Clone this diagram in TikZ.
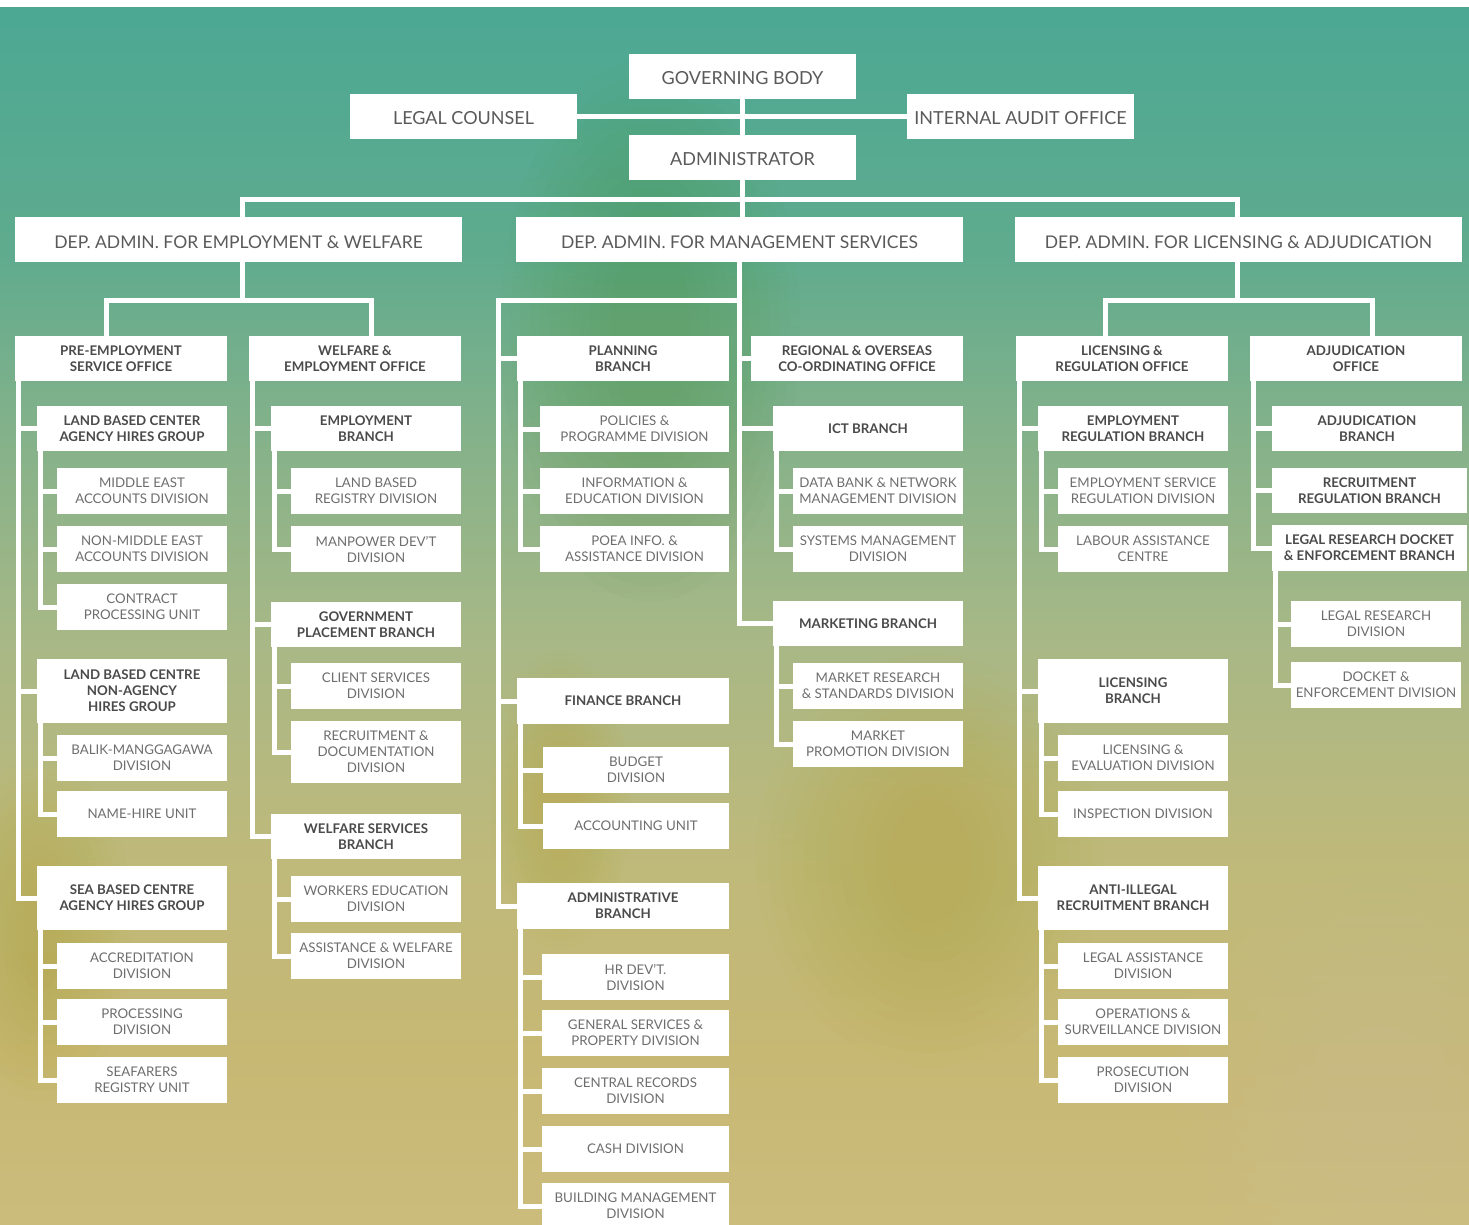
\documentclass[tikz,border=0pt]{standalone}
\usepackage{fontspec}
\setmainfont{Lato}
\usepackage{xcolor}
\usepackage{tikz}
\usetikzlibrary{positioning,calc}
\definecolor{txtdark}{HTML}{5A5A5A}
\definecolor{txtbold}{HTML}{4A4A4A}
\definecolor{txtlight}{HTML}{6E6E6E}
\definecolor{bga}{HTML}{4CA893}
\definecolor{bgb}{HTML}{5FAB8E}
\definecolor{bgc}{HTML}{86B28A}
\definecolor{bgd}{HTML}{A8B886}
\definecolor{bge}{HTML}{BEB97B}
\definecolor{bgf}{HTML}{C7B874}
\definecolor{bgg}{HTML}{CBBC7C}
\definecolor{ochre}{HTML}{B89A2E}
\definecolor{moss}{HTML}{4E8F3E}
\definecolor{pale}{HTML}{DCD8B0}
\pgfdeclareverticalshading{paper}{100bp}{color(0bp)=(bgg); color(25bp)=(bgg);
  color(32bp)=(bgf); color(40.5bp)=(bge); color(49bp)=(bgd); color(57bp)=(bgc);
  color(65bp)=(bgb); color(75bp)=(bga); color(100bp)=(bga)}
\tikzstyle{topbox} = [fill=white, minimum width=227pt, minimum height=45pt,
    inner sep=0pt, outer sep=0pt, text=txtdark, text height=17pt, text depth=0pt,
    font=\fontsize{18}{22}\selectfont]
\tikzstyle{depbox} = [topbox, minimum width=447pt, font=\fontsize{17.5}{21}\selectfont]
\tikzstyle{office} = [fill=white, minimum width=212pt, minimum height=45pt,
    inner sep=0pt, outer sep=0pt, align=center, text=txtbold,
    font=\bfseries\fontsize{13.3}{16}\selectfont]
\tikzstyle{branch} = [office, minimum width=190pt]
\tikzstyle{division} = [fill=white, minimum width=170pt, minimum height=46pt,
    inner sep=0pt, outer sep=0pt, align=center, text=txtlight,
    font=\fontsize{13.3}{16}\selectfont]
\tikzstyle{link} = [draw=white, line width=5pt]
\tikzstyle{blot} = [fill opacity=0.03]

\begin{document}
\begin{tikzpicture}[x=1pt, y=-1pt]
	\useasboundingbox (0,0) rectangle (1469,1225);
	\fill[white] (0,0) rectangle (1469,8);
	\shade[shading=paper] (0,8) rectangle (1469,1225);
	\begin{scope}
		\clip (0,8) rectangle (1469,1225);
		\foreach \r in {1,...,12} {
			\fill[moss, blot] (650,330) ellipse ({30+10*\r} and {80+16*\r});
			\fill[ochre, blot] (930,860) ellipse ({30+12*\r} and {50+13*\r});
			\fill[ochre, blot] (40,930) ellipse ({10+7*\r} and {40+11*\r});
			\fill[ochre, blot] (560,800) ellipse ({10+5*\r} and {30+10*\r});
			\fill[pale, blot] (1380,1080) ellipse ({40+14*\r} and {40+14*\r});
		}
	\end{scope}

	% top
	\node[topbox] (gov) at (742.5,76.5) {GOVERNING BODY};
	\node[topbox, below=36pt of gov] (admin) {ADMINISTRATOR};
	\node[topbox] (legal) at (463.5,116.5) {LEGAL COUNSEL};
	\node[topbox] (audit) at (1020.5,116.5) {INTERNAL AUDIT OFFICE};

	\node[depbox] (depms) at (739.5,239.5) {DEP. ADMIN. FOR MANAGEMENT SERVICES};
	\node[depbox, left=54pt of depms] (depew) {DEP. ADMIN. FOR EMPLOYMENT \& WELFARE};
	\node[depbox, right=52pt of depms] (deplic) {DEP. ADMIN. FOR LICENSING \& ADJUDICATION};

	% employment & welfare
	\node[office, anchor=north west] (pre) at (15,336) {PRE-EMPLOYMENT\\SERVICE OFFICE};
	\node[branch, below=25pt of pre.south east, anchor=north east] (lbc) {LAND BASED CENTER\\AGENCY HIRES GROUP};
	\node[division, below=17pt of lbc.south east, anchor=north east] (mea) {MIDDLE EAST\\ACCOUNTS DIVISION};
	\node[division, below=12pt of mea] (nmea) {NON-MIDDLE EAST\\ACCOUNTS DIVISION};
	\node[division, below=12pt of nmea] (cpu) {CONTRACT\\PROCESSING UNIT};
	\node[branch, minimum height=64pt, below=29pt of cpu.south east, anchor=north east] (lbcn) {LAND BASED CENTRE\\NON-AGENCY\\HIRES GROUP};
	\node[division, below=12pt of lbcn.south east, anchor=north east] (balik) {BALIK-MANGGAGAWA\\DIVISION};
	\node[division, below=10pt of balik] (nhu) {NAME-HIRE UNIT};
	\node[branch, minimum height=64pt, below=29pt of nhu.south east, anchor=north east] (sbc) {SEA BASED CENTRE\\AGENCY HIRES GROUP};
	\node[division, below=13pt of sbc.south east, anchor=north east] (accr) {ACCREDITATION\\DIVISION};
	\node[division, below=10pt of accr] (procd) {PROCESSING\\DIVISION};
	\node[division, below=12pt of procd] (seaf) {SEAFARERS\\REGISTRY UNIT};

	\node[office, right=22pt of pre] (welf) {WELFARE \&\\EMPLOYMENT OFFICE};
	\node[branch, below=25pt of welf.south east, anchor=north east] (empb) {EMPLOYMENT\\BRANCH};
	\node[division, below=17pt of empb.south east, anchor=north east] (lbr) {LAND BASED\\REGISTRY DIVISION};
	\node[division, below=12pt of lbr] (mdv) {MANPOWER DEV'T\\DIVISION};
	\node[branch, below=30pt of mdv.south east, anchor=north east] (gpb) {GOVERNMENT\\PLACEMENT BRANCH};
	\node[division, below=16pt of gpb.south east, anchor=north east] (csd) {CLIENT SERVICES\\DIVISION};
	\node[division, minimum height=62pt, below=12pt of csd] (rdd) {RECRUITMENT \&\\DOCUMENTATION\\DIVISION};
	\node[branch, below=31pt of rdd.south east, anchor=north east] (wsb) {WELFARE SERVICES\\BRANCH};
	\node[division, below=17pt of wsb.south east, anchor=north east] (wed) {WORKERS EDUCATION\\DIVISION};
	\node[division, below=11pt of wed] (awd) {ASSISTANCE \& WELFARE\\DIVISION};

	% management services
	\node[office, anchor=north west] (plan) at (517,336) {PLANNING\\BRANCH};
	\node[division, minimum width=189pt, below=25pt of plan.south east, anchor=north east] (pol) {POLICIES \&\\PROGRAMME DIVISION};
	\node[division, minimum width=189pt, below=16pt of pol] (inf) {INFORMATION \&\\EDUCATION DIVISION};
	\node[division, minimum width=189pt, below=12pt of inf] (poea) {POEA INFO. \&\\ASSISTANCE DIVISION};
	\node[office, minimum height=46pt, below=106pt of poea.south east, anchor=north east] (fin) {FINANCE BRANCH};
	\node[division, minimum width=186pt, below=23pt of fin.south east, anchor=north east] (bud) {BUDGET\\DIVISION};
	\node[division, minimum width=186pt, below=10pt of bud] (acc) {ACCOUNTING UNIT};
	\node[office, minimum height=46pt, below=34pt of acc.south east, anchor=north east] (adm) {ADMINISTRATIVE\\BRANCH};
	\node[division, minimum width=187pt, below=25pt of adm.south east, anchor=north east] (hr) {HR DEV'T.\\DIVISION};
	\node[division, minimum width=187pt, below=10pt of hr] (gen) {GENERAL SERVICES \&\\PROPERTY DIVISION};
	\node[division, minimum width=187pt, below=12pt of gen] (cen) {CENTRAL RECORDS\\DIVISION};
	\node[division, minimum width=187pt, below=12pt of cen] (cash) {CASH DIVISION};
	\node[division, minimum width=187pt, below=11pt of cash] (bld) {BUILDING MANAGEMENT\\DIVISION};

	\node[office, right=22pt of plan] (reg) {REGIONAL \& OVERSEAS\\CO-ORDINATING OFFICE};
	\node[branch, below=25pt of reg.south east, anchor=north east] (ict) {ICT BRANCH};
	\node[division, below=17pt of ict.south east, anchor=north east] (dbn) {DATA BANK \& NETWORK\\MANAGEMENT DIVISION};
	\node[division, below=12pt of dbn] (sys) {SYSTEMS MANAGEMENT\\DIVISION};
	\node[branch, below=29pt of sys.south east, anchor=north east] (mkt) {MARKETING BRANCH};
	\node[division, below=17pt of mkt.south east, anchor=north east] (mrs) {MARKET RESEARCH\\\& STANDARDS DIVISION};
	\node[division, below=12pt of mrs] (mpd) {MARKET\\PROMOTION DIVISION};

	% licensing & adjudication
	\node[office, anchor=north west] (lro) at (1016,336) {LICENSING \&\\REGULATION OFFICE};
	\node[branch, below=25pt of lro.south east, anchor=north east] (erb) {EMPLOYMENT\\REGULATION BRANCH};
	\node[division, below=17pt of erb.south east, anchor=north east] (esr) {EMPLOYMENT SERVICE\\REGULATION DIVISION};
	\node[division, below=12pt of esr] (lac) {LABOUR ASSISTANCE\\CENTRE};
	\node[branch, minimum height=64pt, below=87pt of lac.south east, anchor=north east] (lib) {LICENSING\\BRANCH};
	\node[division, below=12pt of lib.south east, anchor=north east] (led) {LICENSING \&\\EVALUATION DIVISION};
	\node[division, below=10pt of led] (ins) {INSPECTION DIVISION};
	\node[branch, minimum height=64pt, below=29pt of ins.south east, anchor=north east] (aib) {ANTI-ILLEGAL\\RECRUITMENT BRANCH};
	\node[division, below=13pt of aib.south east, anchor=north east] (lad) {LEGAL ASSISTANCE\\DIVISION};
	\node[division, below=10pt of lad] (osd) {OPERATIONS \&\\SURVEILLANCE DIVISION};
	\node[division, below=12pt of osd] (pro) {PROSECUTION\\DIVISION};

	\node[office, right=22pt of lro] (ado) {ADJUDICATION\\OFFICE};
	\node[branch, below=25pt of ado.south east, anchor=north east] (adb) {ADJUDICATION\\BRANCH};
	\node[branch, minimum width=195pt, below=17pt of adb.south west, anchor=north west] (rrb) {RECRUITMENT\\REGULATION BRANCH};
	\node[branch, minimum width=195pt, minimum height=46pt, below=12pt of rrb] (lrd) {LEGAL RESEARCH DOCKET\\\& ENFORCEMENT BRANCH};
	\node[division, below=30pt of lrd.south west, anchor=north west, xshift=19pt] (lrdv) {LEGAL RESEARCH\\DIVISION};
	\node[division, below=15pt of lrdv] (dkt) {DOCKET \&\\ENFORCEMENT DIVISION};

	% connectors
	\draw[link] (gov) -- (admin);
	\draw[link] (legal) -- (audit);
	\draw[link] (admin.south) -- ++(0,20) coordinate (bus);
	\draw[link] ([xshift=4pt]depew.north) |- (bus) -| ([xshift=-1pt]deplic.north);
	\draw[link] (bus) -- (bus |- depms.north);

	\draw[link] ([xshift=4pt]depew.south) -- ++(0,38) coordinate (ewbus);
	\draw[link] ([xshift=-15pt]pre.north) |- (ewbus) -| ([xshift=16pt]welf.north);
	\draw[link] (depms.south) |- (mkt.west) (depms.south) |- (reg.west) (depms.south) |- (ict.west);
	\draw[link] (depms.south) -- ++(0,38) -| ([xshift=-19pt]plan.north west) coordinate (mstrunk);
	\draw[link] (mstrunk) |- (plan.west) (mstrunk) |- (fin.west) (mstrunk) |- (adm.west);
	\draw[link] ([xshift=-1pt]deplic.south) -- ++(0,38) coordinate (lcbus);
	\draw[link] ([xshift=-17pt]lro.north) |- (lcbus) -| ([xshift=16pt]ado.north);

	\draw[link] ([xshift=3pt]pre.south west) |- (lbc.west) ([xshift=3pt]pre.south west) |- (lbcn.west)
		([xshift=3pt]pre.south west) |- (sbc.west);
	\draw[link] ([xshift=3pt]lbc.south west) |- (mea.west) ([xshift=3pt]lbc.south west) |- (nmea.west)
		([xshift=3pt]lbc.south west) |- (cpu.west);
	\draw[link] ([xshift=3pt]lbcn.south west) |- (balik.west) ([xshift=3pt]lbcn.south west) |- (nhu.west);
	\draw[link] ([xshift=3pt]sbc.south west) |- (accr.west) ([xshift=3pt]sbc.south west) |- (procd.west)
		([xshift=3pt]sbc.south west) |- (seaf.west);

	\draw[link] ([xshift=3pt]welf.south west) |- (empb.west) ([xshift=3pt]welf.south west) |- (gpb.west)
		([xshift=3pt]welf.south west) |- (wsb.west);
	\draw[link] ([xshift=3pt]empb.south west) |- (lbr.west) ([xshift=3pt]empb.south west) |- (mdv.west);
	\draw[link] ([xshift=3pt]gpb.south west) |- (csd.west) ([xshift=3pt]gpb.south west) |- (rdd.west);
	\draw[link] ([xshift=3pt]wsb.south west) |- (wed.west) ([xshift=3pt]wsb.south west) |- (awd.west);

	\draw[link] ([xshift=3pt]plan.south west) |- (pol.west) ([xshift=3pt]plan.south west) |- (inf.west)
		([xshift=3pt]plan.south west) |- (poea.west);
	\draw[link] ([xshift=3pt]fin.south west) |- (bud.west) ([xshift=3pt]fin.south west) |- (acc.west);
	\draw[link] ([xshift=3pt]adm.south west) |- (hr.west) ([xshift=3pt]adm.south west) |- (gen.west)
		([xshift=3pt]adm.south west) |- (cen.west) ([xshift=3pt]adm.south west) |- (cash.west)
		([xshift=3pt]adm.south west) |- (bld.west);
	\draw[link] ([xshift=3pt]ict.south west) |- (dbn.west) ([xshift=3pt]ict.south west) |- (sys.west);
	\draw[link] ([xshift=3pt]mkt.south west) |- (mrs.west) ([xshift=3pt]mkt.south west) |- (mpd.west);

	\draw[link] ([xshift=3pt]lro.south west) |- (erb.west) ([xshift=3pt]lro.south west) |- (lib.west)
		([xshift=3pt]lro.south west) |- (aib.west);
	\draw[link] ([xshift=3pt]erb.south west) |- (esr.west) ([xshift=3pt]erb.south west) |- (lac.west);
	\draw[link] ([xshift=3pt]lib.south west) |- (led.west) ([xshift=3pt]lib.south west) |- (ins.west);
	\draw[link] ([xshift=3pt]aib.south west) |- (lad.west) ([xshift=3pt]aib.south west) |- (osd.west)
		([xshift=3pt]aib.south west) |- (pro.west);
	\draw[link] ([xshift=3pt]ado.south west) |- (adb.west) ([xshift=3pt]ado.south west) |- (rrb.west)
		([xshift=3pt]ado.south west) |- (lrd.west);
	\draw[link] ([xshift=3pt]lrd.south west) |- (lrdv.west) ([xshift=3pt]lrd.south west) |- (dkt.west);
\end{tikzpicture}
\end{document}
